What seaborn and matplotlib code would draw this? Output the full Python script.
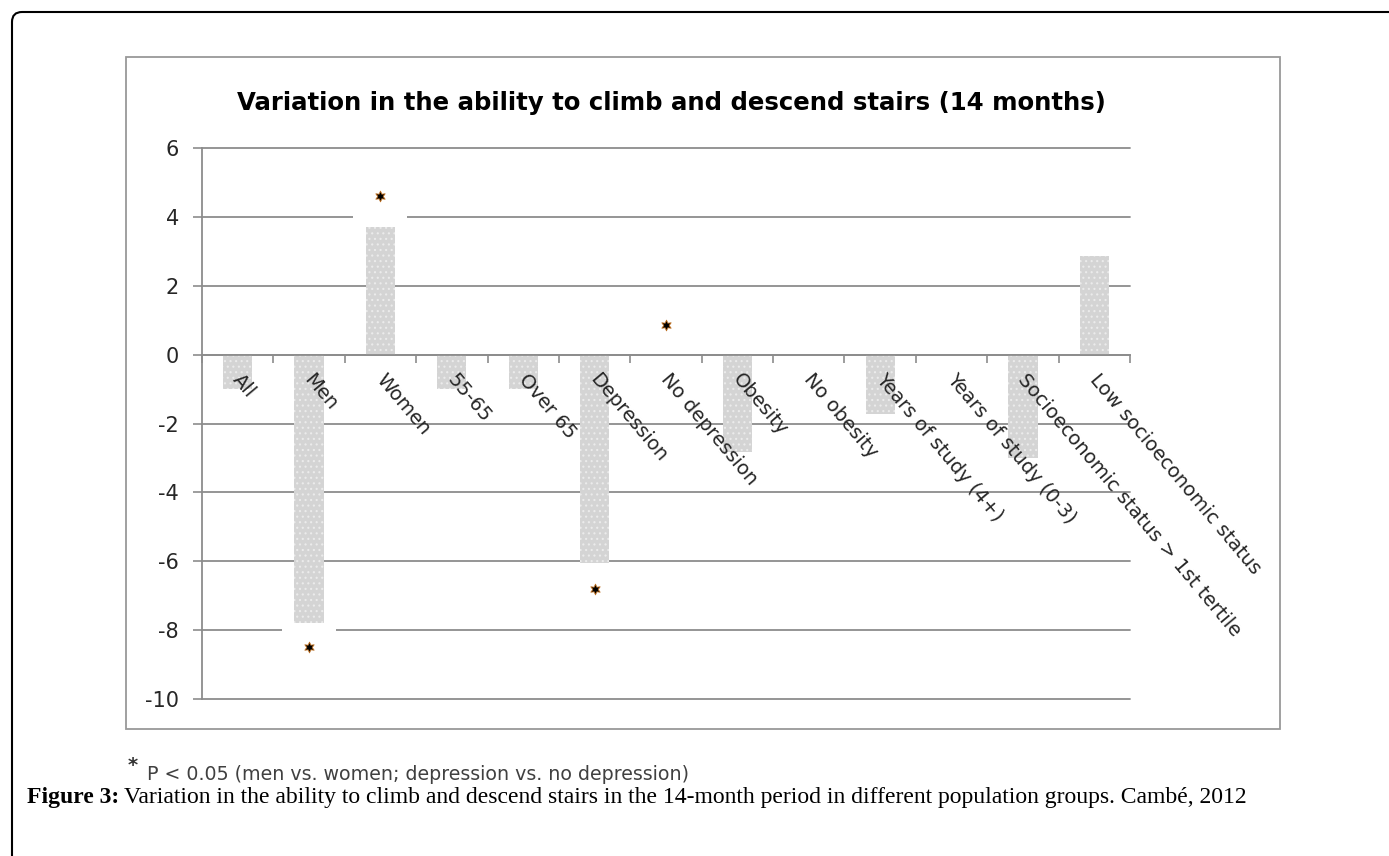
import matplotlib
matplotlib.use('Agg')
import matplotlib.pyplot as plt
import matplotlib.transforms as mtransforms
from matplotlib.patches import Rectangle, FancyBboxPatch
import seaborn as sns
import numpy as np
import pandas as pd

# data
categories = ['All', 'Men', 'Women', '55-65', 'Over 65', 'Depression', 'No depression',
              'Obesity', 'No obesity', 'Years of study (4+)', 'Years of study (0-3)',
              'Socioeconomic status > 1st tertile', 'Low socioeconomic status']
values = [-1.0, -7.8, 3.7, -1.0, -1.0, -6.05, 0.0, -2.82, 0.0, -1.72, 0.0, -3.0, 2.86]
sig_groups = ['Men', 'Women', 'Depression', 'No depression']
sig_marks = [-8.5, 4.6, -6.8, 0.85]
y_ticks = [6, 4, 2, 0, -2, -4, -6, -8, -10]

title = 'Variation in the ability to climb and descend stairs (14 months)'
footnote = 'P < 0.05 (men vs. women; depression vs. no depression)'
caption_bold = 'Figure 3:'
caption_rest = ('Variation in the ability to climb and descend stairs in the 14-month period '
                'in different population groups. Cambé, 2012')

sns.set_theme(style='white')
plt.rcParams['font.family'] = ['DejaVu Sans']
plt.rcParams['axes.unicode_minus'] = False
plt.rcParams['hatch.linewidth'] = 0.8

grey = '#8c8c8c'
W, H = 1389, 856
fig = plt.figure(figsize=(W / 100, H / 100), dpi=100)
ax = fig.add_axes([202 / W, 1 - 699 / H, (1130 - 202) / W, (699 - 148) / H])

df = pd.DataFrame({'group': categories, 'change': values})
sns.barplot(data=df, x='group', y='change', color='#d4d4d4', saturation=1,
            width=0.41, ax=ax, zorder=2)
for bar in ax.patches:
    bar.set_hatch('...')
    bar.set_edgecolor('#ebebeb')
    bar.set_linewidth(0)

# white label boxes behind the significance marks (they cut the gridlines)
sig_x = [categories.index(g) for g in sig_groups]
box = [(-27, -23), (27, -23), (27, 23), (-27, 23)]
ax.scatter(sig_x, sig_marks, marker=box, s=39 ** 2, color='white', linewidths=0, zorder=1)
ax.scatter(sig_x, sig_marks, marker=(6, 1, 0), s=60, color='black', linewidths=0.6,
           edgecolors='#c07020', zorder=4)

ax.set_xlim(-0.5, len(categories) - 0.5)
ax.set_ylim(-10, 6)
ax.set_yticks(y_ticks)
ax.set_xlabel('')
ax.set_ylabel('')

ax.grid(axis='y', color=grey, lw=1.3)
ax.yaxis.set_zorder(0.5)
ax.xaxis.set_zorder(3)
for gl in ax.get_ygridlines():
    gl.set_clip_on(False)

for s in ['top', 'right']:
    ax.spines[s].set_visible(False)
ax.spines['left'].set_color(grey)
ax.spines['left'].set_linewidth(1.3)
ax.spines['bottom'].set_position(('data', 0))
ax.spines['bottom'].set_color(grey)
ax.spines['bottom'].set_linewidth(1.3)

ax.tick_params(axis='y', left=True, length=6.5, width=1.2, color=grey, pad=10,
               labelsize=15, labelcolor='#262626')
ax.set_xticks(range(len(categories)), categories, rotation=-50, ha='left',
              rotation_mode='anchor')
ax.tick_params(axis='x', which='major', bottom=True, length=0, pad=11,
               labelsize=14, labelcolor='#262626')
ax.set_xticks(np.arange(-0.5, len(categories)), minor=True)
ax.tick_params(axis='x', which='minor', bottom=True, length=5.5, width=1.2,
               color=grey, direction='out')
offset = mtransforms.ScaledTranslation(6 / 100, 0, fig.dpi_scale_trans)
for lab in ax.get_xticklabels():
    lab.set_transform(lab.get_transform() + offset)

# chart frame and page border
fig.add_artist(Rectangle((126 / W, 1 - 729 / H), (1280 - 126) / W, (729 - 57) / H,
                         transform=fig.transFigure, fill=False, ec='#999999', lw=1.3))
fig.add_artist(FancyBboxPatch((0.12, -1.0), 15, 8.44 + 1.0,
                              boxstyle='round,pad=0,rounding_size=0.1',
                              transform=fig.dpi_scale_trans, fill=False,
                              ec='black', lw=1.5, clip_on=False))

fig.text(671 / W, 1 - 103 / H, title, ha='center', va='center',
         fontsize=17.6, fontweight='bold', color='black')

fig.text(128 / W, 1 - 766 / H, '*', ha='left', va='center', fontsize=14,
         fontweight='bold', color='#333333')
fig.text(147 / W, 1 - 774 / H, footnote, ha='left', va='center', fontsize=13.7,
         color='#404040')

cap1 = fig.text(27 / W, 1 - 798 / H, caption_bold, ha='left', va='center', fontsize=17,
                fontweight='bold', color='black', family=['Liberation Serif'])
fig.canvas.draw()
x1 = cap1.get_window_extent().x1
fig.text((x1 + 5) / W, 1 - 798 / H, caption_rest, ha='left', va='center', fontsize=17,
         color='black', family=['Liberation Serif'])

fig.savefig('out.png', dpi=100)
